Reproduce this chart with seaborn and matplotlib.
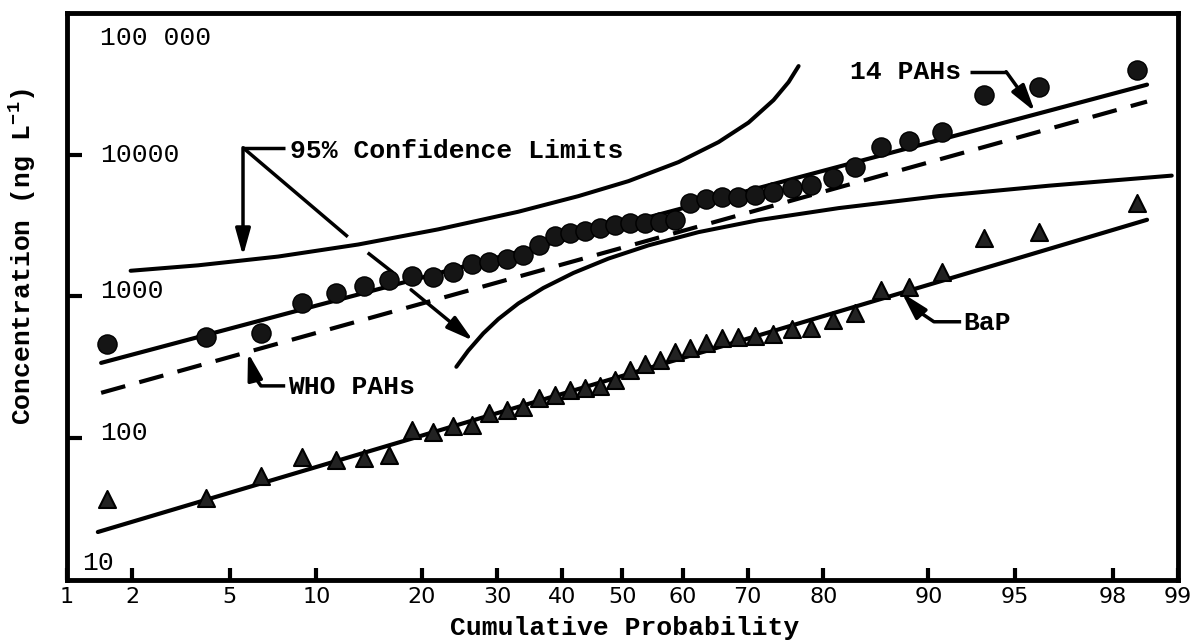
from statistics import NormalDist
import matplotlib as mpl
import matplotlib.pyplot as plt
from matplotlib.ticker import NullLocator
import seaborn as sns
import numpy as np
import pandas as pd

# cumulative probability (%) of the 40 ranked samples (same ranks for both series)
prob = [1.55, 4.04, 6.52, 9.01, 11.49, 13.98, 16.46, 18.94, 21.43, 23.91,
        26.40, 28.88, 31.37, 33.85, 36.34, 38.82, 41.30, 43.79, 46.27, 48.76,
        51.24, 53.73, 56.21, 58.70, 61.18, 63.66, 66.15, 68.63, 71.12, 73.60,
        76.09, 78.57, 81.06, 83.54, 86.02, 88.51, 90.99, 93.48, 95.96, 98.45]

# concentrations, ng/L
pahs14 = [460, 520, 550, 900, 1050, 1190, 1310, 1400, 1370, 1500,
          1690, 1740, 1840, 1970, 2320, 2680, 2820, 2910, 3030, 3210,
          3310, 3310, 3370, 3480, 4590, 4890, 5010, 5060, 5220, 5480,
          5850, 6140, 6880, 8230, 11400, 12400, 14500, 26500, 30200, 39800]
bap = [37, 38, 54, 74, 70, 72, 76, 115, 111, 121,
       124, 151, 158, 167, 193, 202, 220, 227, 234, 258,
       304, 335, 357, 407, 435, 471, 511, 520, 528, 546,
       592, 601, 685, 768, 1110, 1170, 1490, 2600, 2860, 4590]

# fitted lognormal lines (end points)
fit14_p, fit14_c = [1.45, 98.6], [340, 31200]
who_p, who_c = [1.45, 98.6], [209, 23700]
fitbap_p, fitbap_c = [1.40, 98.6], [21.8, 3475]

# 95% confidence limits
upper_p = [1.97, 3.77, 7.46, 13.41, 22.02, 33.14, 42.68, 51.01, 59.28,
           65.63, 70.13, 73.66, 75.68, 76.97]
upper_c = [1518, 1658, 1912, 2325, 2975, 3960, 5103, 6511, 8866,
           12270, 16850, 24280, 32540, 42200]
lower_p = [24.33, 25.92, 28.00, 30.16, 33.14, 37.02, 41.86, 47.66, 54.34,
           62.50, 71.57, 81.74, 90.74, 96.30, 98.93]
lower_c = [319, 415, 549, 693, 893, 1148, 1465, 1850, 2293,
           2843, 3455, 4200, 5103, 6045, 7120]

xticks = [1, 2, 5, 10, 20, 30, 40, 50, 60, 70, 80, 90, 95, 98, 99]
ylabels = {'100 000': (0.030, 67000), '10000': (0.030, 10000), '1000': (0.030, 1100),
           '100': (0.030, 109), '10': (0.0135, 13.2)}

sns.set_theme(style='white')
plt.rcParams['font.family'] = ['Liberation Mono', 'DejaVu Sans']
plt.rcParams['mathtext.fontset'] = 'custom'
plt.rcParams['mathtext.rm'] = 'Liberation Mono:bold'
plt.rcParams['mathtext.bf'] = 'Liberation Mono:bold'
plt.rcParams['mathtext.default'] = 'bf'

nd = NormalDist()


def _ppf(p):
    return nd.inv_cdf(p) if 0 < p < 1 else np.nan


def to_probit(p):
    return np.vectorize(_ppf, otypes=[float])(np.asarray(p, dtype=float) / 100)


def from_probit(z):
    return np.vectorize(nd.cdf, otypes=[float])(np.asarray(z, dtype=float)) * 100


fig = plt.figure(figsize=(11.97, 6.44), dpi=100)
ax = fig.add_axes([0.056, 0.0994, 0.928, 0.8805])
ax.set_xscale('function', functions=(to_probit, from_probit))
ax.set_yscale('log')

pts = pd.DataFrame({'prob': prob, 'pahs14': pahs14, 'bap': bap})

lw = 3.0
sns.lineplot(x=fit14_p, y=fit14_c, ax=ax, color='black', lw=lw)
sns.lineplot(x=who_p, y=who_c, ax=ax, color='black', lw=lw)
ax.lines[-1].set_dashes([6, 3.5])
sns.lineplot(x=fitbap_p, y=fitbap_c, ax=ax, color='black', lw=lw)
sns.lineplot(x=upper_p, y=upper_c, ax=ax, color='black', lw=2.9, sort=False)
sns.lineplot(x=lower_p, y=lower_c, ax=ax, color='black', lw=2.9, sort=False)
for ln in ax.lines:
    ln.set_solid_joinstyle('round')
    ln.set_solid_capstyle('round')

sns.scatterplot(data=pts, x='prob', y='pahs14', ax=ax, marker='o', s=190,
                color='#151515', edgecolor='black', linewidth=1, zorder=5)
sns.scatterplot(data=pts, x='prob', y='bap', ax=ax, marker='^', s=150,
                color='#222222', edgecolor='black', linewidth=1.5, zorder=5)

ax.set_xlim(1, 99)
ax.set_ylim(10, 100000)

# annotations
txt = dict(fontsize=19, weight='bold', color='black', va='center', ha='left')
arr = dict(arrowstyle='-|>,head_length=0.9,head_width=0.25', lw=2.5, color='black',
           shrinkA=0, shrinkB=0, mutation_scale=18)
seg = dict(color='black', lw=2.5, solid_capstyle='butt')

ax.text(8.2, 10650, '95% Confidence Limits', **txt)
ax.plot([7.9, 5.6], [11200, 11200], **seg)
ax.annotate('', xy=(5.6, 1930), xytext=(5.6, 11200), arrowprops=arr)
ax.plot([5.6, 12.5], [11200, 2637], **seg)
ax.plot([14.3, 16.85], [2034, 1470], **seg)
ax.annotate('', xy=(26.6, 487), xytext=(18.8, 1115), arrowprops=arr)

ax.text(83.0, 38500, '14 PAHs', **txt)
ax.plot([92.7, 94.6], [38500, 38500], **seg)
ax.annotate('', xy=(95.8, 20100), xytext=(94.6, 38500), arrowprops=arr)

ax.text(8.07, 231, 'WHO PAHs', **txt)
ax.plot([7.89, 6.5, 6.14], [234, 234, 275], **seg)
ax.annotate('', xy=(5.84, 401), xytext=(6.14, 275), arrowprops=arr)

ax.text(92.3, 652, 'BaP', **txt)
ax.plot([92.2, 90.4, 89.3], [663, 663, 780], **seg)
ax.annotate('', xy=(87.9, 1062), xytext=(89.3, 780), arrowprops=arr)

# axes styling
for s in ax.spines.values():
    s.set_color('black')
    s.set_linewidth(3.5)

ax.set_xticks(xticks)
ax.set_xticklabels([str(t) for t in xticks], fontfamily='DejaVu Sans', fontsize=16)
ax.xaxis.set_minor_locator(NullLocator())
ax.set_yticks([100, 1000, 10000])
ax.set_yticklabels([])
ax.yaxis.set_minor_locator(NullLocator())
ax.tick_params(axis='x', bottom=True, direction='in', length=9, width=3, pad=5, colors='black')
ax.tick_params(axis='y', left=True, direction='in', length=11, width=3, colors='black')

for lab, (xf, yv) in ylabels.items():
    ax.text(xf, yv, lab, transform=ax.get_yaxis_transform(), fontsize=19,
            va='center', ha='left', color='black')

ax.set_xlabel('Cumulative Probability', fontsize=19, weight='bold', color='black')
ax.xaxis.set_label_coords(0.502, -0.085)
ax.xaxis.label.set_va('center')
ax.set_ylabel('Concentration (ng L$^{-1}$)', fontsize=19, weight='bold', color='black')
ax.yaxis.set_label_coords(-0.040, 0.57)
ax.yaxis.label.set_va('center')

fig.savefig('out.png', dpi=100)
